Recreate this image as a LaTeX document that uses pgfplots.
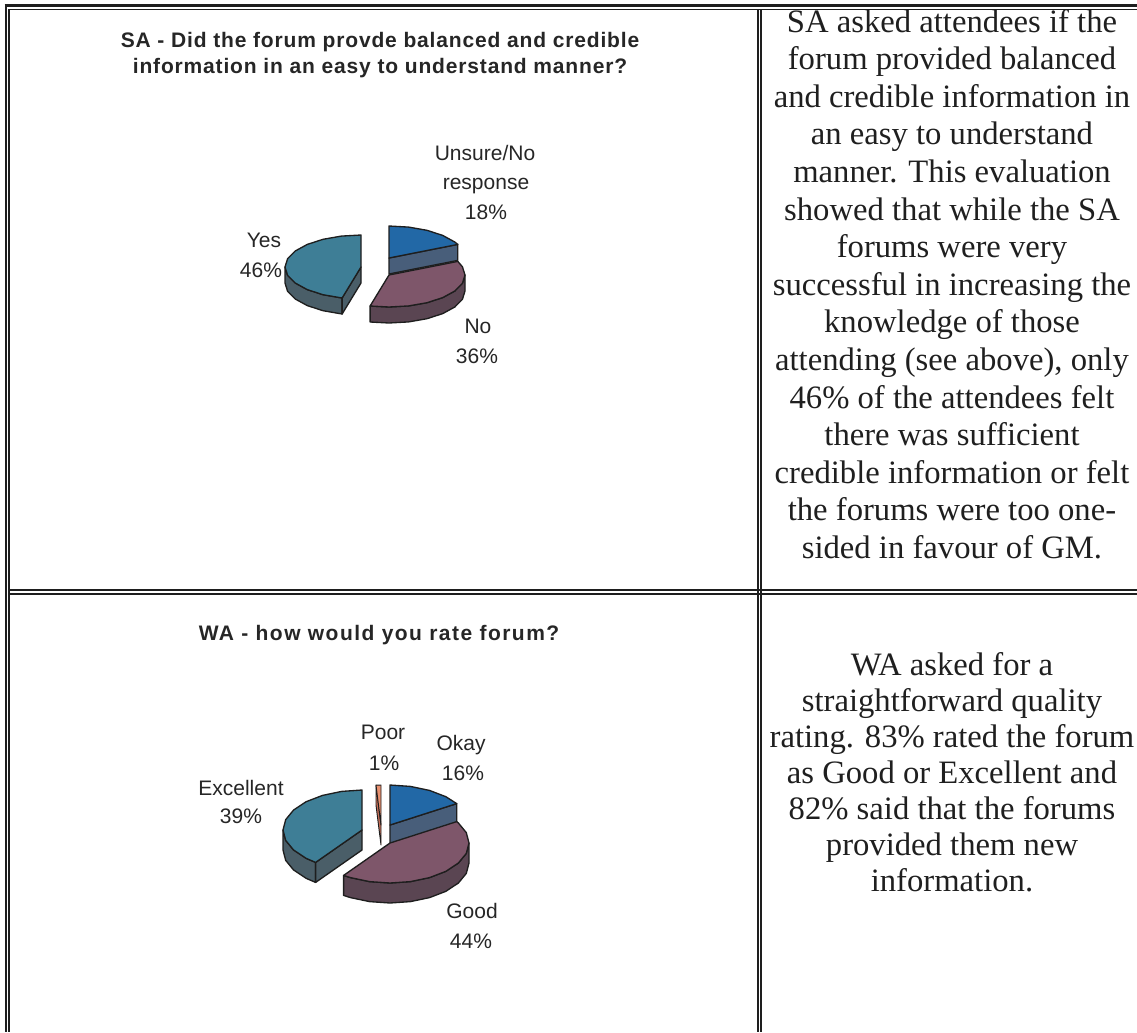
\documentclass[border=0pt]{standalone}
\usepackage{fontspec}
\setmainfont{Liberation Serif}
\newfontfamily\arial{Liberation Sans}
\newfontfamily\arialsp{Liberation Sans}[LetterSpace=4]
\newfontfamily\arialspw{Liberation Sans}[LetterSpace=7]
\usepackage{pgfplots}
\pgfplotsset{compat=1.18}
\definecolor{outl}{HTML}{1E1E1E}
\definecolor{bluetop}{HTML}{2268A6}
\definecolor{blueside}{HTML}{485E7A}
\definecolor{mauvetop}{HTML}{7E566A}
\definecolor{mauveside}{HTML}{5A4552}
\definecolor{tealtop}{HTML}{3E7E96}
\definecolor{tealside}{HTML}{4A5E68}
\definecolor{poortop}{HTML}{E8906F}
\definecolor{poorside}{HTML}{C46E58}
\newcommand\rtext{\fontsize{24.5}{26}\selectfont}
\newcommand\lab{\arial\fontsize{15.75}{18}\selectfont}
\newcommand\ttl{\arialsp\bfseries\fontsize{15.75}{18}\selectfont}
\newcommand\ttlw{\arialspw\bfseries\fontsize{15.75}{18}\selectfont}
\pgfplotsset{slice/.style={draw=outl, line width=1pt, line join=round}}
\begin{document}
\begin{tikzpicture}
\begin{axis}[at={(0,0)}, anchor=south west, width=852.75pt, height=774pt, scale only axis,
  xmin=0, xmax=1137, ymin=0, ymax=1032, y dir=reverse, hide axis, clip=false]
% ---------- table rules ----------
\draw[line width=2pt, outl] (axis cs:4.5,5.3) -- (axis cs:1137,5.3);
\draw[line width=1.8pt, outl] (axis cs:5.8,4.3) -- (axis cs:5.8,1032);
\draw[line width=1.2pt, outl] (axis cs:9,9.3) -- (axis cs:1137,9.3);
\draw[line width=1.5pt, outl] (axis cs:9,9.3) -- (axis cs:9,1032);
\draw[line width=1.5pt, outl] (axis cs:757.7,9.3) -- (axis cs:757.7,1032);
\draw[line width=1.5pt, outl] (axis cs:761,9.3) -- (axis cs:761,1032);
\draw[line width=1.2pt, outl] (axis cs:9,590) -- (axis cs:1137,590);
\draw[line width=1.2pt, outl] (axis cs:9,594) -- (axis cs:1137,594);
% ---------- SA pie (Unsure 18, No 36, Yes 46) ----------
\addplot[slice, fill=blueside] coordinates {(389,258) (457.8,244.4) (457.8,260.4) (389,274)} -- cycle;
\addplot[slice, fill=bluetop] coordinates {(389,258) (389,226) (408.7,227.1) (427,230.3) (442.7,235.4) (454.8,242) (457.8,244.4)} -- cycle;
\addplot[slice, fill=mauveside] coordinates {(465,275) (462.4,283.3) (454.8,291) (442.7,297.6) (427,302.7) (408.7,305.9) (389,307) (370.1,306) (370.1,322) (389,323) (408.7,321.9) (427,318.7) (442.7,313.6) (454.8,307) (462.4,299.3) (465,291)} -- cycle;
\addplot[slice, fill=mauvetop] coordinates {(389,275) (457.8,261.4) (462.4,266.7) (465,275) (462.4,283.3) (454.8,291) (442.7,297.6) (427,302.7) (408.7,305.9) (389,307) (370.1,306)} -- cycle;
\addplot[slice, fill=tealside] coordinates {(342.1,298) (323,294.7) (307.3,289.6) (295.2,283) (287.6,275.3) (285,267) (285,283) (287.6,291.3) (295.2,299) (307.3,305.6) (323,310.7) (342.1,314)} -- cycle;
\addplot[slice, fill=tealside] coordinates {(361,267) (342.1,298) (342.1,314) (361,283)} -- cycle;
\addplot[slice, fill=tealtop] coordinates {(361,267) (342.1,298) (323,294.7) (307.3,289.6) (295.2,283) (287.6,275.3) (285,267) (287.6,258.7) (295.2,251) (307.3,244.4) (323,239.3) (341.3,236.1) (361,235)} -- cycle;
% ---------- WA pie (Okay 16, Good 44, Excellent 39, Poor 1) ----------
\addplot[slice, line width=0.7pt, fill=poorside] coordinates {(381,825) (376,785.1) (376,805.1) (381,845)} -- cycle;
\addplot[slice, line width=0.7pt, fill=poortop] coordinates {(381,825) (376,785.1) (381,785)} -- cycle;
\addplot[slice, fill=blueside] coordinates {(390,825) (456.7,803.6) (456.7,823.6) (390,845)} -- cycle;
\addplot[slice, fill=bluetop] coordinates {(390,825) (390,785) (410.4,786.4) (429.5,790.4) (445.9,796.7) (456.7,803.6)} -- cycle;
\addplot[slice, fill=tealside] coordinates {(315.6,862.4) (306.1,858.3) (293.6,850) (285.7,840.4) (283,830) (283,850) (285.7,860.4) (293.6,870) (306.1,878.3) (315.6,882.4)} -- cycle;
\addplot[slice, fill=tealside] coordinates {(362,830) (315.6,862.4) (315.6,882.4) (362,850)} -- cycle;
\addplot[slice, fill=tealtop] coordinates {(362,830) (315.6,862.4) (306.1,858.3) (293.6,850) (285.7,840.4) (283,830) (285.7,819.6) (293.6,810) (306.1,801.7) (322.5,795.4) (341.6,791.4) (362,790)} -- cycle;
\addplot[slice, fill=mauveside] coordinates {(469,843) (466.3,853.4) (458.4,863) (445.9,871.3) (429.5,877.6) (410.4,881.6) (390,883) (369.6,881.6) (350.5,877.6) (343.6,875.4) (343.6,895.4) (350.5,897.6) (369.6,901.6) (390,903) (410.4,901.6) (429.5,897.6) (445.9,891.3) (458.4,883) (466.3,873.4) (469,863)} -- cycle;
\addplot[slice, fill=mauvetop] coordinates {(390,843) (456.7,821.6) (458.4,823) (466.3,832.6) (469,843) (466.3,853.4) (458.4,863) (445.9,871.3) (429.5,877.6) (410.4,881.6) (390,883) (369.6,881.6) (350.5,877.6) (343.6,875.4)} -- cycle;
% ---------- titles ----------
\node[anchor=base, font=\ttl, text=black!85] at (axis cs:380,47) {SA - Did the forum provde balanced and credible};
\node[anchor=base, font=\ttl, text=black!85] at (axis cs:380,73) {information in an easy to understand manner?};
\node[anchor=base, font=\ttlw, text=black!85] at (axis cs:379,640) {WA - how would you rate forum?};
% ---------- pie labels ----------
\node[anchor=base, font=\lab, text=black!85] at (axis cs:485,160) {Unsure/No};
\node[anchor=base, font=\lab, text=black!85] at (axis cs:486,189.5) {response};
\node[anchor=base, font=\lab, text=black!85] at (axis cs:486,219) {18\%};
\node[anchor=base, font=\lab, text=black!85] at (axis cs:264,247) {Yes};
\node[anchor=base, font=\lab, text=black!85] at (axis cs:261,277) {46\%};
\node[anchor=base, font=\lab, text=black!85] at (axis cs:478,333) {No};
\node[anchor=base, font=\lab, text=black!85] at (axis cs:477,363) {36\%};
\node[anchor=base, font=\lab, text=black!85] at (axis cs:383,739) {Poor};
\node[anchor=base, font=\lab, text=black!85] at (axis cs:384,770) {1\%};
\node[anchor=base, font=\lab, text=black!85] at (axis cs:461,750) {Okay};
\node[anchor=base, font=\lab, text=black!85] at (axis cs:463,780) {16\%};
\node[anchor=base, font=\lab, text=black!85] at (axis cs:241,795) {Excellent};
\node[anchor=base, font=\lab, text=black!85] at (axis cs:241,823) {39\%};
\node[anchor=base, font=\lab, text=black!85] at (axis cs:472,918) {Good};
\node[anchor=base, font=\lab, text=black!85] at (axis cs:471,948) {44\%};
% ---------- right column text ----------
\node[anchor=base, font=\rtext, text=black!88] at (axis cs:952,32) {SA asked attendees if the};
\node[anchor=base, font=\rtext, text=black!88] at (axis cs:952,69.6) {forum provided balanced};
\node[anchor=base, font=\rtext, text=black!88] at (axis cs:952,107.2) {and credible information in};
\node[anchor=base, font=\rtext, text=black!88] at (axis cs:952,144.8) {an easy to understand};
\node[anchor=base, font=\rtext, text=black!88] at (axis cs:952,182.4) {manner. This evaluation};
\node[anchor=base, font=\rtext, text=black!88] at (axis cs:952,220) {showed that while the SA};
\node[anchor=base, font=\rtext, text=black!88] at (axis cs:952,257.6) {forums were very};
\node[anchor=base, font=\rtext, text=black!88] at (axis cs:952,295.2) {successful in increasing the};
\node[anchor=base, font=\rtext, text=black!88] at (axis cs:952,332.8) {knowledge of those};
\node[anchor=base, font=\rtext, text=black!88] at (axis cs:952,370.4) {attending (see above), only};
\node[anchor=base, font=\rtext, text=black!88] at (axis cs:952,408) {46\% of the attendees felt};
\node[anchor=base, font=\rtext, text=black!88] at (axis cs:952,445.6) {there was sufficient};
\node[anchor=base, font=\rtext, text=black!88] at (axis cs:952,483.2) {credible information or felt};
\node[anchor=base, font=\rtext, text=black!88] at (axis cs:952,520.8) {the forums were too one-};
\node[anchor=base, font=\rtext, text=black!88] at (axis cs:952,558.4) {sided in favour of GM.};
\node[anchor=base, font=\rtext, text=black!88] at (axis cs:952,675) {WA asked for a};
\node[anchor=base, font=\rtext, text=black!88] at (axis cs:952,711) {straightforward quality};
\node[anchor=base, font=\rtext, text=black!88] at (axis cs:952,747) {rating. 83\% rated the forum};
\node[anchor=base, font=\rtext, text=black!88] at (axis cs:952,783) {as Good or Excellent and};
\node[anchor=base, font=\rtext, text=black!88] at (axis cs:952,819) {82\% said that the forums};
\node[anchor=base, font=\rtext, text=black!88] at (axis cs:952,855) {provided them new};
\node[anchor=base, font=\rtext, text=black!88] at (axis cs:952,891) {information.};
\end{axis}
\pgfresetboundingbox
\path[use as bounding box] (0,0) rectangle (852.75pt,774pt);
\end{tikzpicture}
\end{document}
